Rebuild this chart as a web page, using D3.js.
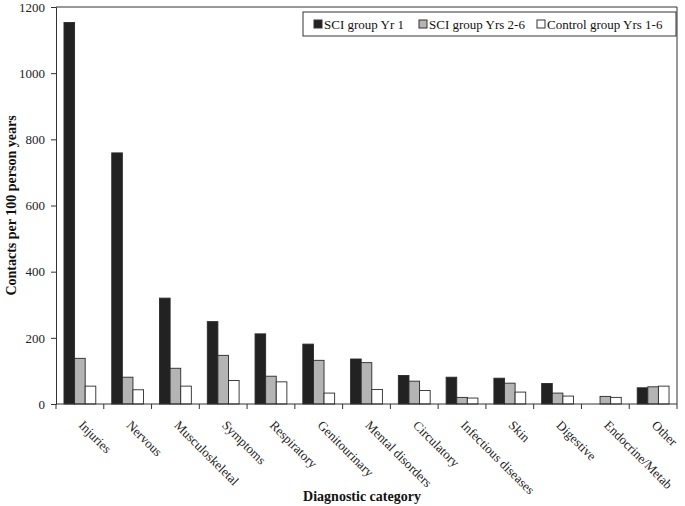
<!DOCTYPE html>
<html>
<head>
<meta charset="utf-8">
<script src="https://cdn.jsdelivr.net/npm/d3@7"></script>
<style>
  body { margin: 0; background: #fff; }
</style>
</head>
<body>
<div id="chart"></div>
<script>
// contacts per 100 person years, by diagnostic category
const categories = ["Injuries", "Nervous", "Musculoskeletal", "Symptoms", "Respiratory",
  "Genitourinary", "Mental disorders", "Circulatory", "Infectious diseases", "Skin",
  "Digestive", "Endocrine/Metab", "Other"];
const seriesNames = ["SCI group Yr 1", "SCI group Yrs 2-6", "Control group Yrs 1-6"];
const sciYr1   = [1153, 759, 320, 249, 212, 181, 136, 86, 81, 78, 62, 0, 49];
const sciYr2to6 = [138, 81, 108, 147, 84, 132, 125, 69, 20, 63, 33, 23, 52];
const control  = [54, 43, 54, 71, 67, 33, 44, 41, 18, 36, 24, 20, 54];
const yTicks = [0, 200, 400, 600, 800, 1000, 1200];
const colors = ["#222222", "#b4b4b4", "#ffffff"];

const FONT = '"Liberation Serif", "Times New Roman", "DejaVu Serif", serif';
const W = 685, H = 506;
const m = { left: 56, right: 8, top: 7, bottom: 102 };
const svg = d3.select("#chart").append("svg").attr("width", W).attr("height", H)
  .attr("font-family", FONT);

const x0 = d3.scaleBand().domain(categories).range([m.left, W - m.right]).padding(0);
const x1 = d3.scaleBand().domain(d3.range(3))
  .range([x0.bandwidth() * 0.167, x0.bandwidth() * 0.833]).padding(0);
const y = d3.scaleLinear().domain([0, 1200]).range([H - m.bottom, m.top]);

// frame (top & right)
svg.append("path")
  .attr("d", `M${m.left},${m.top}H${W - m.right}V${H - m.bottom}`)
  .attr("fill", "none").attr("stroke", "#333").attr("stroke-width", 1);

const rows = categories.map((c, i) => ({ cat: c, vals: [sciYr1[i], sciYr2to6[i], control[i]] }));

const g = svg.append("g").selectAll("g").data(rows).join("g")
  .attr("transform", d => `translate(${x0(d.cat)},0)`);
g.selectAll("rect").data(d => d.vals.map((v, k) => ({ v, k }))).join("rect")
  .filter(d => d.v > 0)
  .attr("x", d => x1(d.k))
  .attr("width", x1.bandwidth())
  .attr("y", d => y(d.v))
  .attr("height", d => y(0) - y(d.v))
  .attr("fill", d => colors[d.k])
  .attr("stroke", "#2a2a2a").attr("stroke-width", 0.9);

// y axis
const yAxis = svg.append("g").attr("transform", `translate(${m.left},0)`)
  .call(d3.axisLeft(y).tickValues(yTicks).tickFormat(d3.format("d")).tickSize(5).tickPadding(6));
yAxis.attr("font-family", FONT);
yAxis.select(".domain").attr("stroke", "#333");
yAxis.selectAll(".tick line").attr("stroke", "#333");
yAxis.selectAll("text").attr("font-size", 13).attr("fill", "#222");

// x axis: baseline with ticks at category boundaries
svg.append("line").attr("x1", m.left).attr("x2", W - m.right)
  .attr("y1", y(0)).attr("y2", y(0)).attr("stroke", "#333");
svg.append("g").selectAll("line").data(categories.concat([null])).join("line")
  .attr("x1", (d, i) => m.left + i * x0.bandwidth())
  .attr("x2", (d, i) => m.left + i * x0.bandwidth())
  .attr("y1", y(0)).attr("y2", y(0) + 5).attr("stroke", "#333");

svg.append("g").selectAll("text").data(categories).join("text")
  .attr("transform", d => `translate(${x0(d) + x0.bandwidth() / 2 - 2},${y(0) + 22}) rotate(45)`)
  .attr("font-size", 13).attr("fill", "#222")
  .text(d => d);

// axis titles
svg.append("text")
  .attr("transform", `translate(16,${(m.top + H - m.bottom) / 2}) rotate(-90)`)
  .attr("text-anchor", "middle").attr("font-weight", "bold").attr("font-size", 14)
  .attr("fill", "#111")
  .text("Contacts per 100 person years");
svg.append("text")
  .attr("x", 362).attr("y", 501)
  .attr("text-anchor", "middle").attr("font-weight", "bold").attr("font-size", 14)
  .attr("fill", "#111")
  .text("Diagnostic category");

// legend
const leg = svg.append("g");
leg.append("rect").attr("x", 303).attr("y", 12).attr("width", 373).attr("height", 24)
  .attr("fill", "#fff").attr("stroke", "#333");
const legX = [314, 419, 537];
seriesNames.forEach((s, k) => {
  leg.append("rect").attr("x", legX[k]).attr("y", 20).attr("width", 8).attr("height", 8)
    .attr("fill", colors[k]).attr("stroke", "#333");
  leg.append("text").attr("x", legX[k] + 10).attr("y", 28.5)
    .attr("font-size", 13).attr("fill", "#111").text(s);
});
</script>
</body>
</html>
